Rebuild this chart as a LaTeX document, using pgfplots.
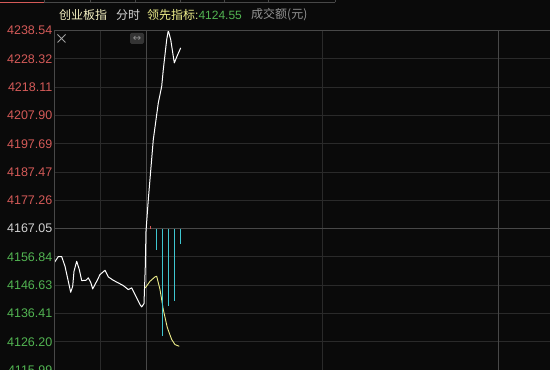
\documentclass[border=0pt]{standalone}
\usepackage{pgfplots}
\pgfplotsset{compat=1.18}
\usepackage{fontspec}
\setmainfont{Liberation Sans}
\newfontfamily\cjk{Noto Sans CJK SC}
\newfontfamily\djv{DejaVu Sans}
\definecolor{bg}{HTML}{0A0A0A}
\definecolor{gridc}{HTML}{2A2A2A}
\definecolor{gridm}{HTML}{484848}
\definecolor{iconbox}{HTML}{343434}
\definecolor{upred}{HTML}{D45A58}
\definecolor{dngreen}{HTML}{52B452}
\definecolor{neutral}{HTML}{D2D2D2}
\definecolor{ylw}{HTML}{EDED8A}
\definecolor{ttl}{HTML}{F2EEC0}
\definecolor{cyanbar}{HTML}{3FC6D0}
\begin{document}
\begin{tikzpicture}[x=1pt,y=1pt]
\fill[bg] (0,0) rectangle (550,370);
\useasboundingbox (0,0) rectangle (550,370);
% top tab strip
\draw[gridm, line width=0.8pt] (44,367.6) -- (335,367.6);
\draw[upred, line width=0.8pt] (0,367.6) -- (44,367.6);
\foreach \x in {44,90,135,180,224,268,335} \draw[gridm, line width=0.6pt] (\x,367.6) -- (\x,371);
% title line
\node[anchor=west, inner sep=0, text=ttl, font=\cjk\fontsize{12}{14}\selectfont] at (59,355) {创业板指};
\node[anchor=west, inner sep=0, text=neutral, font=\cjk\fontsize{12}{14}\selectfont] at (116,355) {分时};
\node[anchor=west, inner sep=0, font=\fontsize{12}{14}\selectfont] at (147,355) {\textcolor{ylw}{\cjk 领先指标}\textcolor{ylw}{:}\textcolor{dngreen}{4124.55}};
\node[anchor=west, inner sep=0, text=gray!85, font=\cjk\fontsize{12}{14}\selectfont] at (251,355) {成交额(元)};
\begin{axis}[
  at={(54,0)}, anchor=south west, scale only axis,
  width=496pt, height=340.4pt,
  xmin=54, xmax=550, ymin=4115.99, ymax=4238.90,
  axis line style={draw=none},
  major tick length=0pt,
  tick label style={font=\fontsize{12.5}{14}\selectfont},
  yticklabel style={anchor=east, inner xsep=1.5pt},
  ytick={4115.99,4126.20,4136.41,4146.63,4156.84,4177.26,4187.47,4197.69,4207.90,4218.11,4228.32,4238.54},
  yticklabels={\textcolor{dngreen}{4115.99},\textcolor{dngreen}{4126.20},\textcolor{dngreen}{4136.41},\textcolor{dngreen}{4146.63},\textcolor{dngreen}{4156.84},\textcolor{upred}{4177.26},\textcolor{upred}{4187.47},\textcolor{upred}{4197.69},\textcolor{upred}{4207.90},\textcolor{upred}{4218.11},\textcolor{upred}{4228.32},\textcolor{upred}{4238.54}},
  extra y ticks={4167.05},
  extra y tick labels={\textcolor{neutral}{4167.05}},
  extra y tick style={grid=major, major grid style={gridm, line width=1.6pt}},
  xtick={100,322}, xticklabels={},
  extra x ticks={146,498}, extra x tick labels={},
  extra x tick style={grid=major, major grid style={draw=gridm, line width=0.8pt}},
  grid=major,
  major grid style={draw=gridc, line width=0.8pt},
  unbounded coords=jump,
  clip=true,
]
% main index line (white)
\addplot[white, line width=1pt, line join=round] coordinates {
(54.3,4167.05) (54.3,4154.77) (58.3,4156.94) (61.7,4156.94) (65,4153.44)
(68.3,4148.02) (70.7,4144.05) (72.7,4146.22) (74,4151.63) (76.7,4155.24)
(79.3,4152.25) (81.7,4148.27) (86,4148.38) (88.3,4149.25) (90.7,4147.66)
(92.7,4145.28) (96.7,4148.02) (100,4150.44) (105,4151.99) (108.3,4149.61)
(113.3,4148.38) (118.3,4147.44) (123.3,4146.47) (128.3,4145.03) (131.7,4145.64)
(135,4143.22) (140,4139.61) (141.7,4138.78) (144,4139.97)
(145.3,4153.44) (146,4166.07) (148.3,4177.52) (153.3,4199.18) (158.3,4212.44)
(161.7,4218.43) (163.3,4224.46) (166.7,4235.29) (168.3,4238.54) (170.7,4235.29)
(174.3,4226.88) (177.7,4229.87) (180.7,4232.29)
};
% leading indicator (yellow)
\addplot[ylw, line width=0.9pt, line join=round] coordinates {
(145.3,4145.64) (150,4148.02) (155,4149.61) (156.7,4149.83) (160,4145.03)
(163.3,4137.80) (167.3,4131.31) (171.7,4126.97) (175,4125.17) (179.3,4124.55)
};
% bars below the base value (cyan)
\addplot[cyanbar, line width=1.1pt] coordinates {
(156.7,4167.05) (156.7,4159.47) (156.7,nan)
(162.3,4167.05) (162.3,4128.42) (162.3,nan)
(168.3,4167.05) (168.3,4139.25) (168.3,nan)
(174.3,4167.05) (174.3,4141.05) (174.3,nan)
(180.3,4167.05) (180.3,4161.63)
};
% bar above the base value (red)
\addplot[upred, line width=1.1pt] coordinates {(150.7,4167.05) (150.7,4168.13)};
\end{axis}
% axis borders
\draw[gridm, line width=0.8pt] (54,340) -- (550,340);
\draw[gridm, line width=0.8pt] (54,0) -- (54,340);
% icons
\draw[gray!75, line width=0.8pt] (57.5,327.5) -- (65.5,335.5) (57.5,335.5) -- (65.5,327.5);
\fill[iconbox, rounded corners=1.5pt] (130,326) rectangle (144,337);
\node[text=gray!90, font=\djv\fontsize{10}{11}\selectfont, inner sep=0] at (137,331.5) {↔};
\end{tikzpicture}
\end{document}
